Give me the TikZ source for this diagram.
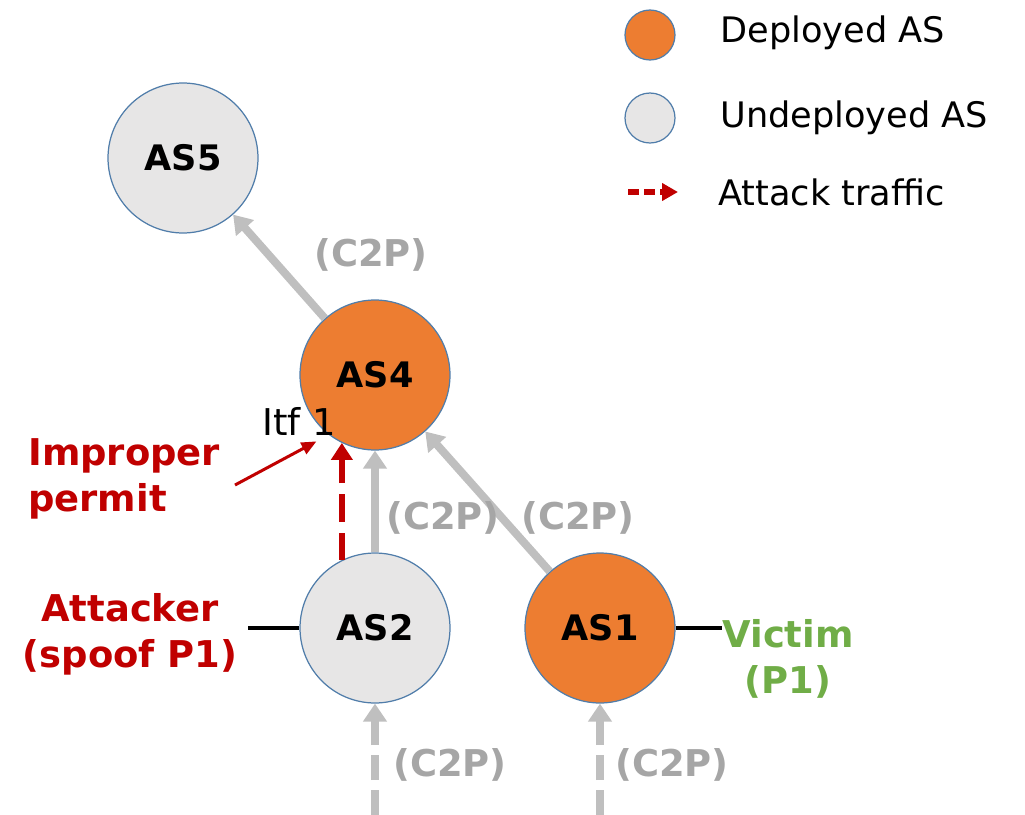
\documentclass[tikz,border=0pt]{standalone}
\usepackage{xcolor}
\usepackage{fontspec}
\setmainfont{DejaVu Sans}
\usetikzlibrary{arrows.meta,positioning}

\definecolor{deployed}{RGB}{237,125,49}
\definecolor{undeployed}{RGB}{231,230,230}
\definecolor{asline}{RGB}{80,125,170}
\definecolor{c2pline}{RGB}{191,191,191}
\definecolor{c2ptext}{RGB}{166,166,166}
\definecolor{attackred}{RGB}{192,0,0}
\definecolor{victimgreen}{RGB}{112,173,71}

\begin{document}
\begin{tikzpicture}[
  x=0.02cm, y=-0.02cm,
  as/.style={circle, draw=asline, line width=0.7pt, minimum size=3cm,
    inner sep=0pt, font=\fontsize{20}{24}\selectfont\bfseries},
  dep/.style={as, fill=deployed},
  undep/.style={as, fill=undeployed},
  link/.style={-{Triangle[length=0.36cm, width=0.46cm]}, line width=0.16cm, c2pline},
  upstream/.style={link, dash pattern=on 0.5cm off 0.2cm},
  attack/.style={-{Triangle[length=0.34cm, width=0.42cm]}, line width=0.13cm, attackred,
    dash pattern=on 0.55cm off 0.22cm},
  pointer/.style={-{Triangle[length=0.3cm, width=0.25cm]}, line width=0.06cm, attackred},
  stub/.style={line width=0.08cm, black},
  rel/.style={font=\fontsize{21}{25}\selectfont\bfseries, text=c2ptext, inner sep=0pt},
  role/.style={font=\fontsize{21}{26}\selectfont\bfseries, align=center, inner sep=0pt},
  lgtext/.style={font=\fontsize{20}{24}\selectfont, inner sep=0pt, anchor=west}
]
  \useasboundingbox (0,0) rectangle (1025,815);

  % ASes
  \node[undep] (as5) at (183,158) {AS5};
  \node[dep]   (as4) at (375,375) {AS4};
  \node[undep] (as2) at (375,628) {AS2};
  \node[dep]   (as1) at (600,628) {AS1};

  % customer-to-provider links
  \draw[link] (as4) -- (as5);
  \draw[link] (as2) -- (as4);
  \draw[link] (as1) -- (as4);
  \node[rel] (r54) at (371,255) {(C2P)};
  \node[rel] (r24) at (443,518) {(C2P)};
  \node[rel] (r14) at (578,518) {(C2P)};

  % links coming in from below
  \coordinate (in2) at (375,815);
  \coordinate (in1) at (600,815);
  \draw[upstream] (in2) -- (as2);
  \draw[upstream] (in1) -- (as1);
  \node[rel] (r2) at (450,765) {(C2P)};
  \node[rel] (r1) at (672,765) {(C2P)};

  % spoofed traffic
  \draw[attack] (as2.116) -- (as4.244);
  \node[font=\fontsize{21}{25}\selectfont, inner sep=0pt] (itf) at (299,421) {Itf 1};

  % attacker and victim
  \coordinate (atk) at (248,628);
  \coordinate (vic) at (722,628);
  \draw[stub] (atk) -- (as2);
  \draw[stub] (as1) -- (vic);
  \node[role, text=attackred] (attacker) at (130,634) {Attacker\\(spoof P1)};
  \node[role, text=victimgreen] (victim) at (788,659) {Victim\\(P1)};

  \node[role, text=attackred, align=left, anchor=west] (imp) at (28,479) {Improper\\permit};
  \coordinate (pstart) at (235,485);
  \draw[pointer] (pstart) -- ([xshift=0.35cm, yshift=-0.12cm]itf.south);

  % legend
  \node[dep, minimum size=1cm] (lgdep) at (650,35) {};
  \node[undep, minimum size=1cm] (lgundep) at (650,118) {};
  \coordinate (lga) at (628,192);
  \coordinate (lgb) at (678,192);
  \draw[attack, line width=0.11cm, dash pattern=on 0.22cm off 0.1cm,
    -{Triangle[length=0.32cm, width=0.34cm]}] (lga) -- (lgb);
  \node[lgtext] (lgt1) at (720,33) {Deployed AS};
  \node[lgtext] (lgt2) at (720,118) {Undeployed AS};
  \node[lgtext] (lgt3) at (718,192) {Attack traffic};
\end{tikzpicture}
\end{document}
